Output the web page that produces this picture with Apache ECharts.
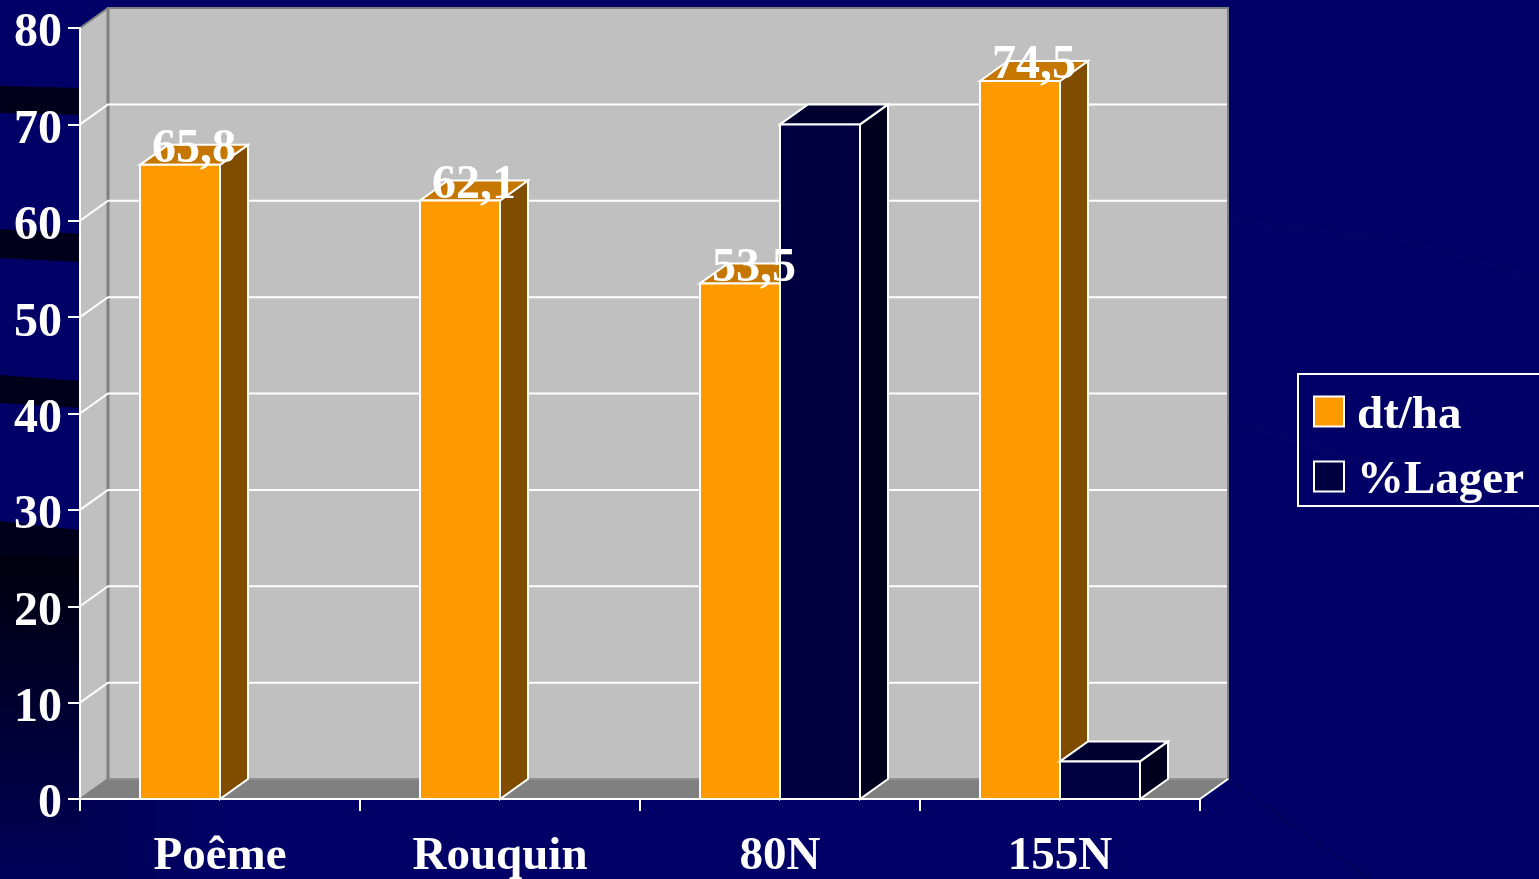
<!DOCTYPE html>
<html><head><meta charset="utf-8">
<style>html,body{margin:0;padding:0;background:#000066;}#c{width:1539px;height:879px;}</style>
<script src="https://cdn.jsdelivr.net/npm/echarts@6/dist/echarts.min.js"></script>
</head><body><div id="c"></div>
<script>
const categories = ['Poême', 'Rouquin', '80N', '155N'];
const yieldValues = [65.8, 62.1, 53.5, 74.5];
const yieldLabels = ['65,8', '62,1', '53,5', '74,5'];
const lagerValues = [null, null, 70, 3.9];
const yTicks = [0, 10, 20, 30, 40, 50, 60, 70, 80];
const seriesNames = ['dt/ha', '%Lager'];

const DX = 28, DY = -20, BAR_W = 80;
const FONT = '"Liberation Serif"';
const chart = echarts.init(document.getElementById('c'));

function bar3d(offset, fill, top, side) {
  return function (params, api) {
    const v = api.value(1);
    if (v == null || isNaN(v)) return null;
    const p = api.coord([api.value(0), v]);
    const base = api.coord([api.value(0), 0]);
    const x = p[0] + offset, y = p[1], b = base[1], w = BAR_W;
    const st = { stroke: '#fff', lineWidth: 2, lineJoin: 'miter' };
    return { type: 'group', children: [
      { type: 'polygon', shape: { points: [[x + w, y], [x + w + DX, y + DY], [x + w + DX, b + DY], [x + w, b]] }, style: Object.assign({ fill: side }, st) },
      { type: 'polygon', shape: { points: [[x, y], [x + DX, y + DY], [x + w + DX, y + DY], [x + w, y]] }, style: Object.assign({ fill: top }, st) },
      { type: 'rect', shape: { x: x, y: y, width: w, height: b - y }, style: Object.assign({ fill: fill }, st) }
    ] };
  };
}

function walls(params, api) {
  const half = api.size([1, 0])[0] / 2;
  const xL = api.coord([0, 0])[0] - half;
  const xR = api.coord([categories.length - 1, 0])[0] + half;
  const y0 = api.coord([0, yTicks[0]])[1];
  const yT = api.coord([0, yTicks[yTicks.length - 1]])[1];
  const kids = [
    { type: 'polygon', shape: { points: [[xL, yT], [xL + DX, yT + DY], [xL + DX, y0 + DY], [xL, y0]] }, style: { fill: '#c0c0c0' } },
    { type: 'rect', shape: { x: xL + DX, y: yT + DY, width: xR - xL, height: y0 - yT }, style: { fill: '#c0c0c0', stroke: '#808080', lineWidth: 2 } },
    { type: 'polygon', shape: { points: [[xL, y0], [xL + DX, y0 + DY], [xR + DX, y0 + DY], [xR, y0]] }, style: { fill: '#808080' } },
    { type: 'line', shape: { x1: xL + DX, y1: y0 + DY, x2: xR + DX, y2: y0 + DY }, style: { stroke: '#a0a0a0', lineWidth: 1 } },
    { type: 'line', shape: { x1: xL, y1: yT, x2: xL + DX, y2: yT + DY }, style: { stroke: '#808080', lineWidth: 2 } },
    { type: 'line', shape: { x1: xL, y1: y0, x2: xL + DX, y2: y0 + DY }, style: { stroke: '#808080', lineWidth: 2 } },
    { type: 'line', shape: { x1: xR, y1: y0, x2: xR + DX, y2: y0 + DY }, style: { stroke: '#fff', lineWidth: 2 } },
    { type: 'line', shape: { x1: xL + DX, y1: yT + DY, x2: xL + DX, y2: y0 + DY }, style: { stroke: '#808080', lineWidth: 3 } }
  ];
  yTicks.slice(1, -1).forEach(function (t) {
    const y = api.coord([0, t])[1];
    kids.push({ type: 'polyline', shape: { points: [[xL, y], [xL + DX, y + DY], [xR + DX - 1, y + DY]] }, style: { fill: 'none', stroke: '#fff', lineWidth: 2 } });
  });
  return { type: 'group', children: kids };
}

function labelItem(params, api) {
  const p = api.coord([api.value(0), api.value(1)]);
  return { type: 'text', style: { x: p[0] - 80 + (BAR_W + DX) / 2, y: p[1] + 9, text: yieldLabels[params.dataIndex], fill: '#fff', font: 'bold 48px ' + FONT, textAlign: 'center', textVerticalAlign: 'bottom' } };
}

function band(y1a, y1b, y2a, y2b, c) {
  return { type: 'polygon', silent: true, z: -10, shape: { points: [[0, y1a], [80, y1b], [80, y2b], [0, y2a]] }, style: { fill: c } };
}

chart.setOption({
  animation: false,
  backgroundColor: '#000066',
  graphic: [
    { type: 'rect', silent: true, z: -11, shape: { x: 0, y: 555, width: 80, height: 324 },
      style: { fill: new echarts.graphic.LinearGradient(0, 0, 0, 1, [{ offset: 0, color: '#00000e' }, { offset: 0.2, color: '#00001c' }, { offset: 1, color: '#000058' }]) } },
    { type: 'rect', silent: true, z: -11, shape: { x: 80, y: 800, width: 140, height: 79 },
      style: { fill: new echarts.graphic.LinearGradient(0, 0, 1, 0, [{ offset: 0, color: 'rgba(0,0,0,0.2)' }, { offset: 1, color: 'rgba(0,0,0,0)' }]) } },
    band(86, 88, 113, 115, '#00001a'),
    band(229, 234, 258, 262, '#00001a'),
    band(375, 381, 403, 408, '#00001a'),
    band(521, 530, 556, 558, '#00001a'),
    { type: 'polyline', silent: true, z: -10, shape: { points: [[1228, 219], [1400, 240], [1539, 278]] }, style: { fill: 'none', stroke: '#05056e', lineWidth: 1 } },
    { type: 'polyline', silent: true, z: -10, shape: { points: [[1228, 420], [1400, 475], [1539, 520]] }, style: { fill: 'none', stroke: '#05056e', lineWidth: 1 } },
    { type: 'polyline', silent: true, z: -10, shape: { points: [[1228, 780], [1370, 879]] }, style: { fill: 'none', stroke: '#00005a', lineWidth: 2 } }
  ],
  legend: {
    data: [
      { name: seriesNames[0], icon: 'rect', itemStyle: { color: '#ff9900', borderColor: '#fff', borderWidth: 2 } },
      { name: seriesNames[1], icon: 'rect', itemStyle: { color: '#000040', borderColor: '#fff', borderWidth: 2 } }
    ],
    orient: 'vertical', left: 1298, top: 374,
    padding: [18, 80, 2, 15], itemWidth: 30, itemHeight: 30, itemGap: 18,
    borderColor: '#fff', borderWidth: 2, selectedMode: false,
    formatter: function (name) { return '{a|' + name + '}'; },
    textStyle: { color: '#fff', fontSize: 47, fontWeight: 'bold', fontFamily: FONT,
      rich: { a: { color: '#fff', fontSize: 47, fontWeight: 'bold', fontFamily: FONT, padding: [8, 0, 0, 8] } } }
  },
  grid: { left: 80, top: 28, width: 1120, height: 771, containLabel: false, outerBoundsMode: 'none' },
  xAxis: {
    type: 'category', data: categories, z: 10,
    axisLine: { show: true, lineStyle: { color: '#fff', width: 2 } },
    axisTick: { show: true, alignWithLabel: false, length: 12, lineStyle: { color: '#fff', width: 2 } },
    axisLabel: { color: '#fff', fontSize: 47, fontWeight: 'bold', fontFamily: FONT, margin: 34, interval: 0 },
    splitLine: { show: false }
  },
  yAxis: {
    type: 'value', min: 0, max: 80, interval: 10, z: 10,
    axisLine: { show: true, lineStyle: { color: '#fff', width: 2 } },
    axisTick: { show: true, length: 12, lineStyle: { color: '#fff', width: 2 } },
    axisLabel: { color: '#fff', fontSize: 48, fontWeight: 'bold', fontFamily: FONT, margin: 18, verticalAlign: 'top', lineHeight: 12 },
    splitLine: { show: false }
  },
  series: [
    { type: 'custom', name: 'walls', silent: true, z: 1, data: [[0, 0]], encode: { x: 0, y: 1 }, renderItem: walls },
    { type: 'custom', name: seriesNames[0], silent: true, z: 2, itemStyle: { color: '#ff9900' }, encode: { x: 0, y: 1 },
      data: yieldValues.map((v, i) => [i, v]), renderItem: bar3d(-80, '#ff9900', '#c67700', '#7f4c00') },
    { type: 'custom', name: seriesNames[1], silent: true, z: 3, itemStyle: { color: '#000040' }, encode: { x: 0, y: 1 },
      data: lagerValues.map((v, i) => [i, v]), renderItem: bar3d(0, '#000040', '#000030', '#00001e') },
    { type: 'custom', name: 'labels', silent: true, z: 4, encode: { x: 0, y: 1 },
      data: yieldValues.map((v, i) => [i, v]), renderItem: labelItem }
  ]
});
</script></body></html>
